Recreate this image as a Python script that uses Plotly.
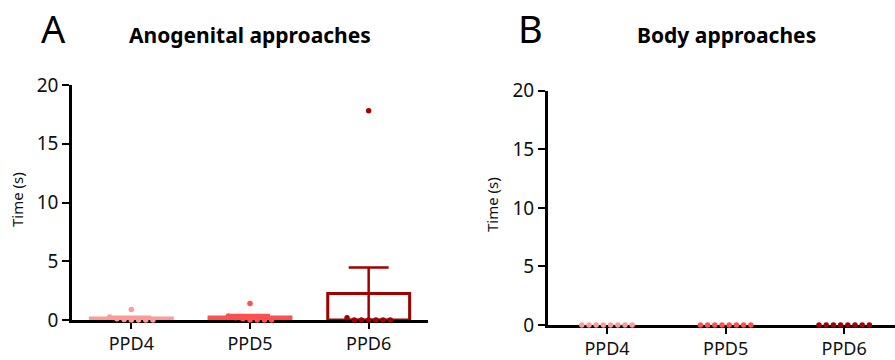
import numpy as np
import plotly.graph_objects as go

# ---- data ----
categories = ["PPD4", "PPD5", "PPD6"]
colors = ["#FF9A9A", "#FF4F4F", "#A30000"]

anogenital_ppd4 = [0.9, 0.25, 0.1, 0.05, 0.0, 0.0, 0.0, 0.0]
anogenital_ppd5 = [1.4, 0.35, 0.2, 0.1, 0.0, 0.0, 0.0, 0.0]
anogenital_ppd6 = [17.8, 0.2, 0.0, 0.0, 0.0, 0.0, 0.0, 0.0]

body_ppd4 = [0.0, 0.0, 0.0, 0.0, 0.0, 0.0, 0.0, 0.0]
body_ppd5 = [0.0, 0.0, 0.0, 0.0, 0.0, 0.0, 0.0, 0.0]
body_ppd6 = [0.0, 0.0, 0.0, 0.0, 0.0, 0.0, 0.0, 0.0]

y_ticks = [0, 5, 10, 15, 20]

# ---- layout geometry ----
W, H = 895, 360
FONT = "Noto Sans"
PX_PER_CAT = 118.6
DOT_SPACING_PX = 7.2


def swarm_offsets(values, spacing_cat, tol=0.5):
    """simple beeswarm: values close to each other are placed side by side"""
    vals = np.asarray(values, dtype=float)
    order = np.argsort(-vals, kind="stable")
    offsets = np.zeros(len(vals))
    rows = []
    for idx in order:
        placed = False
        for row in rows:
            if abs(vals[row[0]] - vals[idx]) <= tol:
                row.append(idx)
                placed = True
                break
        if not placed:
            rows.append([idx])
    for row in rows:
        n = len(row)
        for k, idx in enumerate(row):
            offsets[idx] = (k - (n - 1) / 2) * spacing_cat
    return offsets


fig = go.Figure()

panels = [
    ("x", "y", [anogenital_ppd4, anogenital_ppd5, anogenital_ppd6]),
    ("x2", "y2", [body_ppd4, body_ppd5, body_ppd6]),
]

spacing_cat = DOT_SPACING_PX / PX_PER_CAT

for xa, ya, groups in panels:
    means = [float(np.mean(g)) for g in groups]
    sems = [float(np.std(g, ddof=1) / np.sqrt(len(g))) for g in groups]
    # bars (outlined); zero-height bars are not drawn
    fig.add_trace(go.Bar(
        x=list(range(len(categories))), y=[m if m > 0 else None for m in means], width=0.69,
        marker=dict(color="rgba(255,255,255,0)", line=dict(color=colors, width=3)),
        xaxis=xa, yaxis=ya, showlegend=False, hoverinfo="skip",
    ))
    # error bars (SEM, upward, stem from baseline)
    for i, (m, s) in enumerate(zip(means, sems)):
        if s > 0:
            fig.add_trace(go.Scatter(
                x=[i], y=[m], mode="markers", marker=dict(size=0.1, color=colors[i]),
                error_y=dict(type="data", symmetric=False, array=[s], arrayminus=[m],
                             color=colors[i], thickness=2.5, width=20),
                xaxis=xa, yaxis=ya, showlegend=False, hoverinfo="skip", cliponaxis=False,
            ))
    # dots
    for i, g in enumerate(groups):
        off = swarm_offsets(g, spacing_cat)
        fig.add_trace(go.Scatter(
            x=i + off, y=g, mode="markers",
            marker=dict(size=5.5, color=colors[i]),
            xaxis=xa, yaxis=ya, showlegend=False, cliponaxis=False,
        ))

axis_common = dict(
    showline=True, linecolor="black", linewidth=2.5, showgrid=False, zeroline=False,
    ticks="outside", tickcolor="black", tickwidth=2.2, layer="below traces",
    automargin=False,
)

xA0, xA1 = 72 / W, 428 / W
xB0, xB1 = 547.7 / W, 1.0
yA0, yA1 = (H - 320) / H, (H - 85) / H
yB0, yB1 = (H - 325) / H, (H - 90.7) / H

TXT = "#111111"

fig.update_layout(
    width=W, height=H,
    margin=dict(l=0, r=0, t=0, b=0, autoexpand=False),
    paper_bgcolor="white", plot_bgcolor="white",
    font=dict(family=FONT, color=TXT),
    barmode="overlay",
    xaxis=dict(domain=[xA0, xA1], anchor="y", range=[-0.5, 2.5],
               tickvals=[0, 1, 2], ticktext=categories, ticklen=6,
               tickfont=dict(size=18, family=FONT, color=TXT), **axis_common),
    yaxis=dict(domain=[yA0, yA1], anchor="x", range=[0, 20],
               tickvals=y_ticks, ticklen=7, tickfont=dict(size=19, family=FONT, color=TXT),
               **axis_common),
    xaxis2=dict(domain=[xB0, xB1], anchor="y2",
                range=[-0.5, -0.5 + (W - 547.7) / PX_PER_CAT],
                tickvals=[0, 1, 2], ticktext=categories, ticklen=6,
                tickfont=dict(size=18, family=FONT, color=TXT), **axis_common),
    yaxis2=dict(domain=[yB0, yB1], anchor="x2", range=[0, 20],
                tickvals=y_ticks, ticklen=7, tickfont=dict(size=19, family=FONT, color=TXT),
                **axis_common),
)

annotations = [
    dict(text="A", x=53 / W, y=1.0, yanchor="top", font=dict(size=38, family=FONT, color="black")),
    dict(text="B", x=530 / W, y=1.0, yanchor="top", font=dict(size=38, family=FONT, color="black")),
    dict(text="<b>Anogenital approaches</b>", x=250 / W, y=(H - 35.5) / H,
         font=dict(size=21, family=FONT, color="black")),
    dict(text="<b>Body approaches</b>", x=726 / W, y=(H - 35.5) / H,
         font=dict(size=21, family=FONT, color="black")),
    dict(text="Time (s)", x=17 / W, y=(H - 200) / H, textangle=-90,
         font=dict(size=15, family=FONT, color=TXT)),
    dict(text="Time (s)", x=492 / W, y=(H - 205) / H, textangle=-90,
         font=dict(size=15, family=FONT, color=TXT)),
]
for a in annotations:
    a.setdefault("yanchor", "middle")
    a.update(xref="paper", yref="paper", showarrow=False, xanchor="center")
fig.update_layout(annotations=annotations)

fig.write_html(
    "out.html",
    config={"displayModeBar": False},
    post_script="document.body.style.margin='0px';document.body.style.padding='0px';",
)
